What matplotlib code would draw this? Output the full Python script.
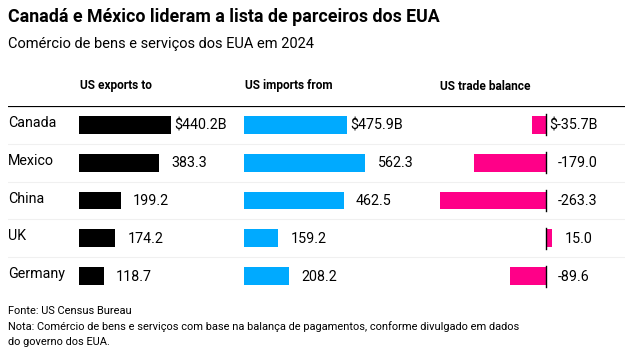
import matplotlib.pyplot as plt

plt.rcParams['font.family'] = ['Roboto', 'DejaVu Sans']

countries = ["Canada", "Mexico", "China", "UK", "Germany"]
exports = [440.2, 383.3, 199.2, 174.2, 118.7]
imports = [475.9, 562.3, 462.5, 159.2, 208.2]
balance = [-35.7, -179.0, -263.3, 15.0, -89.6]

BLACK = "#000000"
BLUE = "#00AAFF"
PINK = "#FF0088"

W, H = 644, 362
fig = plt.figure(figsize=(W / 100, H / 100), dpi=100)


def px_axes(left, top, right, bottom):
    return fig.add_axes([left / W, 1 - bottom / H, (right - left) / W, (bottom - top) / H])


def clean(ax):
    ax.set_axis_off()
    ax.set_ylim(len(countries) - 0.5, -0.5)


rows = list(range(len(countries)))
top, bottom = 106, 295
bar_h = 0.47
FS = 10.3

# background: separators, top rule, country names
bg = px_axes(8, top, 625, bottom)
clean(bg)
bg.set_xlim(0, 1)
for i in rows[:-1]:
    bg.axhline(i + 0.5, color="#f0f0f0", lw=0.8)
bg.axhline(-0.5, color=BLACK, lw=1.6)
for i, c in enumerate(countries):
    bg.text(0, i - 0.05, c, ha="left", va="center", fontsize=FS)


def value_labels(ax, xs, vals, first_fmt):
    for i, (x, v) in enumerate(zip(xs, vals)):
        if i == 0:
            ax.annotate(first_fmt.format(v), (x, i + 0.02), xytext=(2.6, 0),
                        textcoords="offset points", ha="left", va="center", fontsize=FS)
        else:
            ax.annotate(f"{v:.1f}", (x, i + 0.02), xytext=(8.8, 0),
                        textcoords="offset points", ha="left", va="center", fontsize=FS)


# exports panel
ax1 = px_axes(79, top, 240, bottom)
clean(ax1)
ax1.set_xlim(0, 161 / 0.209)
ax1.barh(rows, exports, height=bar_h, color=BLACK)
value_labels(ax1, exports, exports, "${:.1f}B")

# imports panel
ax2 = px_axes(244, top, 430, bottom)
clean(ax2)
ax2.set_xlim(0, 186 / 0.216)
ax2.barh(rows, imports, height=bar_h, color=BLUE)
value_labels(ax2, imports, imports, "${:.1f}B")

# balance panel
ax3 = px_axes(430, top, 625, bottom)
clean(ax3)
ax3.set_xlim(-(546 - 430) / 0.403, (625 - 546) / 0.403)
ax3.barh(rows, balance, height=bar_h, color=PINK)
for i in rows:
    ax3.plot([0, 0], [i - 0.28, i + 0.28], color=BLACK, lw=1)
value_labels(ax3, [max(b, 0) for b in balance], balance, "${:.1f}B")

# headers
for x, label in [(80, "US exports to"), (245, "US imports from"), (440, "US trade balance")]:
    fig.text(x / W, 1 - 86 / H, label, fontsize=8.6, fontweight="bold", va="center")

# title block
fig.text(8 / W, 1 - 17 / H, "Canadá e México lideram a lista de parceiros dos EUA",
         fontsize=12.8, fontweight="bold", va="center")
fig.text(8 / W, 1 - 44 / H, "Comércio de bens e serviços dos EUA em 2024",
         fontsize=10.5, va="center")

# footer
footer = ["Fonte: US Census Bureau",
          "Nota: Comércio de bens e serviços com base na balança de pagamentos, conforme divulgado em dados",
          "do governo dos EUA."]
for k, line in enumerate(footer):
    fig.text(8 / W, 1 - (311 + 15.5 * k) / H, line, fontsize=7.9, va="center")

fig.savefig("out.png", dpi=100)
